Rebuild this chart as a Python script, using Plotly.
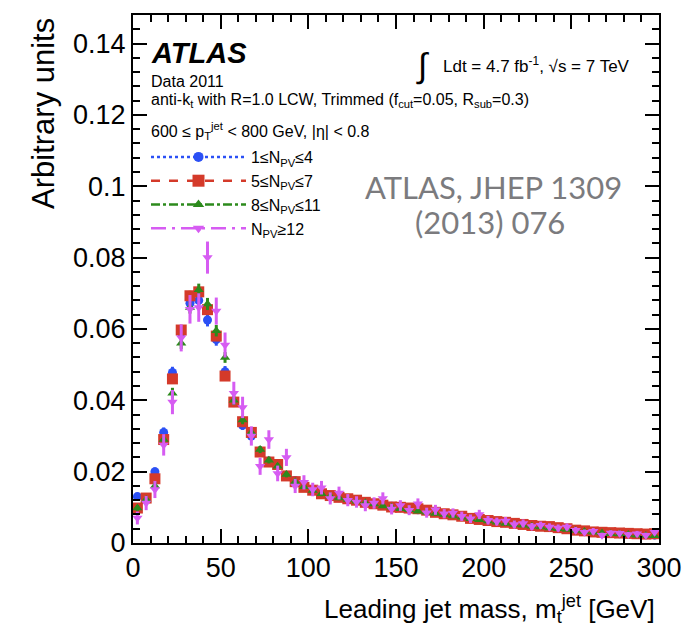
import plotly.graph_objects as go

# ---------------- data ----------------
mass_bins = [2.5, 7.5, 12.5, 17.5, 22.5, 27.5, 32.5, 37.5, 42.5, 47.5,
             52.5, 57.5, 62.5, 67.5, 72.5, 77.5, 82.5, 87.5, 92.5, 97.5,
             102.5, 107.5, 112.5, 117.5, 122.5, 127.5, 132.5, 137.5, 142.5, 147.5,
             152.5, 157.5, 162.5, 167.5, 172.5, 177.5, 182.5, 187.5, 192.5, 197.5,
             202.5, 207.5, 212.5, 217.5, 222.5, 227.5, 232.5, 237.5, 242.5, 247.5,
             252.5, 257.5, 262.5, 267.5, 272.5, 277.5, 282.5, 287.5, 292.5, 297.5]

npv_1_4 = [0.0130, 0.0125, 0.0200, 0.0310, 0.0478, 0.0590, 0.0672, 0.0680, 0.0625, 0.0570,
           0.0480, 0.0395, 0.0330, 0.0300, 0.0258, 0.0230, 0.0218, 0.0190, 0.0175, 0.0160,
           0.0150, 0.0137, 0.0131, 0.0127, 0.0125, 0.0120, 0.0116, 0.0111, 0.0107, 0.0103,
           0.0099, 0.0095, 0.0093, 0.0090, 0.0087, 0.0083, 0.0079, 0.0074, 0.0070, 0.0067,
           0.0064, 0.0061, 0.0057, 0.0054, 0.0051, 0.0049, 0.0046, 0.0044, 0.0042, 0.0039,
           0.0036, 0.0033, 0.0031, 0.0029, 0.0028, 0.0026, 0.0025, 0.0024, 0.0023, 0.0022]

npv_5_7 = [0.0098, 0.0126, 0.0180, 0.0290, 0.0460, 0.0597, 0.0693, 0.0704, 0.0654, 0.0580,
           0.0468, 0.0395, 0.0340, 0.0310, 0.0255, 0.0227, 0.0220, 0.0188, 0.0172, 0.0156,
           0.0148, 0.0138, 0.0133, 0.0128, 0.0124, 0.0120, 0.0114, 0.0110, 0.0106, 0.0101,
           0.0100, 0.0098, 0.0096, 0.0092, 0.0086, 0.0082, 0.0079, 0.0075, 0.0069, 0.0066,
           0.0063, 0.0060, 0.0058, 0.0055, 0.0052, 0.0049, 0.0047, 0.0046, 0.0043, 0.0040,
           0.0036, 0.0034, 0.0031, 0.0030, 0.0029, 0.0028, 0.0027, 0.0026, 0.0025, 0.0026]

npv_8_11 = [0.0098, 0.0122, 0.0160, 0.0290, 0.0420, 0.0560, 0.0660, 0.0710, 0.0670, 0.0595,
            0.0520, 0.0400, 0.0345, 0.0310, 0.0262, 0.0232, 0.0215, 0.0192, 0.0172, 0.0158,
            0.0147, 0.0138, 0.0131, 0.0126, 0.0122, 0.0117, 0.0113, 0.0109, 0.0104, 0.0100,
            0.0096, 0.0093, 0.0089, 0.0086, 0.0083, 0.0080, 0.0076, 0.0072, 0.0068, 0.0065,
            0.0062, 0.0058, 0.0055, 0.0052, 0.0050, 0.0047, 0.0045, 0.0042, 0.0040, 0.0038,
            0.0035, 0.0032, 0.0030, 0.0028, 0.0026, 0.0025, 0.0024, 0.0022, 0.0021, 0.0020]

npv_12 = [0.0070, 0.0112, 0.0150, 0.0275, 0.0395, 0.0575, 0.0655, 0.0660, 0.0800, 0.0650,
          0.0555, 0.0420, 0.0380, 0.0300, 0.0215, 0.0290, 0.0195, 0.0240, 0.0160, 0.0170,
          0.0150, 0.0155, 0.0125, 0.0140, 0.0120, 0.0115, 0.0105, 0.0112, 0.0125, 0.0095,
          0.0105, 0.0092, 0.0110, 0.0085, 0.0093, 0.0082, 0.0084, 0.0075, 0.0068, 0.0080,
          0.0064, 0.0060, 0.0062, 0.0052, 0.0055, 0.0046, 0.0050, 0.0045, 0.0042, 0.0045,
          0.0036, 0.0030, 0.0033, 0.0022, 0.0028, 0.0027, 0.0024, 0.0026, 0.0022, 0.0030]

err_1_4 = [0.0010, 0.0010, 0.0012, 0.0014, 0.0016, 0.0018, 0.0018, 0.0018, 0.0018, 0.0017,
           0.0016, 0.0014, 0.0013, 0.0012, 0.0011, 0.0010, 0.0010, 0.0009, 0.0009, 0.0008,
           0.0008, 0.0008, 0.0007, 0.0007, 0.0007, 0.0007, 0.0007, 0.0006, 0.0006, 0.0006,
           0.0006, 0.0006, 0.0006, 0.0006, 0.0005, 0.0005, 0.0005, 0.0005, 0.0005, 0.0005,
           0.0005, 0.0005, 0.0004, 0.0004, 0.0004, 0.0004, 0.0004, 0.0004, 0.0004, 0.0004,
           0.0003, 0.0003, 0.0003, 0.0003, 0.0003, 0.0003, 0.0003, 0.0003, 0.0003, 0.0003]

err_5_7 = [0.0006, 0.0007, 0.0008, 0.0010, 0.0012, 0.0013, 0.0014, 0.0014, 0.0013, 0.0012,
           0.0011, 0.0010, 0.0009, 0.0009, 0.0008, 0.0008, 0.0008, 0.0007, 0.0007, 0.0006,
           0.0006, 0.0006, 0.0006, 0.0005, 0.0005, 0.0005, 0.0005, 0.0005, 0.0005, 0.0005,
           0.0005, 0.0004, 0.0004, 0.0004, 0.0004, 0.0004, 0.0004, 0.0004, 0.0004, 0.0004,
           0.0003, 0.0003, 0.0003, 0.0003, 0.0003, 0.0003, 0.0003, 0.0003, 0.0003, 0.0003,
           0.0003, 0.0003, 0.0002, 0.0002, 0.0002, 0.0002, 0.0002, 0.0002, 0.0002, 0.0002]

err_8_11 = [0.0008, 0.0009, 0.0010, 0.0012, 0.0015, 0.0016, 0.0017, 0.0017, 0.0017, 0.0016,
            0.0015, 0.0013, 0.0012, 0.0011, 0.0010, 0.0009, 0.0009, 0.0008, 0.0008, 0.0007,
            0.0007, 0.0007, 0.0007, 0.0006, 0.0006, 0.0006, 0.0006, 0.0006, 0.0006, 0.0005,
            0.0005, 0.0005, 0.0005, 0.0005, 0.0005, 0.0005, 0.0004, 0.0004, 0.0004, 0.0004,
            0.0004, 0.0004, 0.0004, 0.0004, 0.0004, 0.0003, 0.0003, 0.0003, 0.0003, 0.0003,
            0.0003, 0.0003, 0.0003, 0.0003, 0.0003, 0.0003, 0.0002, 0.0002, 0.0002, 0.0002]

err_12 = [0.0018, 0.0020, 0.0024, 0.0030, 0.0034, 0.0038, 0.0040, 0.0040, 0.0045, 0.0038,
          0.0035, 0.0032, 0.0030, 0.0027, 0.0024, 0.0026, 0.0022, 0.0024, 0.0020, 0.0020,
          0.0019, 0.0019, 0.0017, 0.0018, 0.0017, 0.0016, 0.0016, 0.0016, 0.0017, 0.0015,
          0.0015, 0.0014, 0.0015, 0.0014, 0.0014, 0.0013, 0.0013, 0.0013, 0.0012, 0.0013,
          0.0012, 0.0011, 0.0011, 0.0011, 0.0011, 0.0010, 0.0010, 0.0010, 0.0010, 0.0010,
          0.0009, 0.0008, 0.0009, 0.0007, 0.0008, 0.0008, 0.0007, 0.0008, 0.0007, 0.0008]

series_names = ["1≤N<sub>PV</sub>≤4", "5≤N<sub>PV</sub>≤7",
                "8≤N<sub>PV</sub>≤11", "N<sub>PV</sub>≥12"]

y_tick_vals = [0, 0.02, 0.04, 0.06, 0.08, 0.1, 0.12, 0.14]
y_tick_text = ["0", "0.02", "0.04", "0.06", "0.08", "0.1", "0.12", "0.14"]
x_tick_vals = [0, 50, 100, 150, 200, 250, 300]
x_tick_text = ["0", "50", "100", "150", "200", "250", "300"]

# ---------------- styles ----------------
FONT = "Liberation Sans"
styles = [
    dict(color="#2b50f5", symbol="circle", size=9, dash="dot"),
    dict(color="#d43a2a", symbol="square", size=11, dash="dash"),
    dict(color="#2c8a1c", symbol="triangle-up", size=9, dash="dashdot"),
    dict(color="#d65cf2", symbol="triangle-down", size=9, dash="longdashdot"),
]
values = [npv_1_4, npv_5_7, npv_8_11, npv_12]
errors = [err_1_4, err_5_7, err_8_11, err_12]

fig = go.Figure()

for name, vals, errs, st in zip(series_names, values, errors, styles):
    fig.add_trace(go.Scatter(
        x=mass_bins, y=vals, mode="markers", name=name, showlegend=False,
        marker=dict(color=st["color"], symbol=st["symbol"], size=st["size"],
                    line=dict(width=0)),
        error_y=dict(type="data", array=errs, visible=True, color=st["color"],
                     thickness=3, width=0),
    ))

# legend entries (line + marker, ROOT style)
for name, st in zip(series_names, styles):
    fig.add_trace(go.Scatter(
        x=[None], y=[None], mode="lines+markers", name=name, showlegend=True,
        line=dict(color=st["color"], width=2.5, dash=st["dash"]),
        marker=dict(color=st["color"], symbol=st["symbol"], size=st["size"] + 1),
    ))

axis_common = dict(
    showline=True, linecolor="black", linewidth=2, mirror="allticks",
    ticks="inside", ticklen=14, tickwidth=2, tickcolor="black",
    showgrid=False, zeroline=False, automargin=False,
    tickfont=dict(family=FONT, size=27, color="black"),
)

fig.update_xaxes(range=[0, 300], tickvals=x_tick_vals, ticktext=x_tick_text,
                 minor=dict(dtick=10, tick0=0, ticks="inside", ticklen=7,
                            tickwidth=2, tickcolor="black"),
                 **axis_common)
fig.update_yaxes(range=[0, 0.148], tickvals=y_tick_vals, ticktext=y_tick_text,
                 minor=dict(dtick=0.004, tick0=0, ticks="inside", ticklen=7,
                            tickwidth=2, tickcolor="black"),
                 **axis_common)

def px(x):
    return (x - 133) / 526.0

def py(y):
    return (543 - y) / 528.0

annotations = [
    dict(text="<b><i>ATLAS</i></b>", x=px(149), y=py(53), xanchor="left", yanchor="middle",
         font=dict(family=FONT, size=29, color="black")),
    dict(text="Data 2011", x=px(149), y=py(81), xanchor="left", yanchor="middle",
         font=dict(family=FONT, size=16, color="black")),
    dict(text="anti-k<sub>t</sub> with R=1.0 LCW, Trimmed (f<sub>cut</sub>=0.05, R<sub>sub</sub>=0.3)",
         x=px(149), y=py(101), xanchor="left", yanchor="middle",
         font=dict(family=FONT, size=16, color="black")),
    dict(text="600 ≤ p<sub>T</sub><sup>jet</sup> < 800 GeV, |η| < 0.8",
         x=px(149), y=py(131), xanchor="left", yanchor="middle",
         font=dict(family=FONT, size=16, color="black")),
    dict(text="∫", x=px(422), y=py(66), xanchor="center", yanchor="middle",
         font=dict(family=FONT, size=34, color="black")),
    dict(text="Ldt = 4.7 fb<sup>-1</sup>, √s = 7 TeV", x=px(632), y=py(65),
         xanchor="right", yanchor="middle",
         font=dict(family=FONT, size=17, color="black")),
    dict(text="ATLAS, JHEP 1309", x=px(493), y=py(187), xanchor="center", yanchor="middle",
         font=dict(family="Lato", size=31, color="#7b7b7e")),
    dict(text="(2013) 076", x=px(490), y=py(222), xanchor="center", yanchor="middle",
         font=dict(family="Lato", size=31, color="#7b7b7e")),
    dict(text="Leading jet mass, m<sub>t</sub><sup>jet</sup> [GeV]", x=px(657), y=py(609),
         xanchor="right", yanchor="middle",
         font=dict(family=FONT, size=26, color="black")),
    dict(text="Arbitrary units", x=px(43), y=py(114), xanchor="center", yanchor="middle",
         textangle=-90, font=dict(family=FONT, size=31, color="black")),
]
for a in annotations:
    a.update(xref="paper", yref="paper", showarrow=False)

fig.update_layout(
    width=684, height=637,
    margin=dict(l=133, r=25, t=15, b=94),
    paper_bgcolor="white", plot_bgcolor="white",
    annotations=annotations,
    legend=dict(x=px(146), y=py(140), xanchor="left", yanchor="top",
                itemwidth=95, bgcolor="rgba(0,0,0,0)",
                font=dict(family=FONT, size=16, color="black"),
                tracegroupgap=0),
    showlegend=True,
)

fig.write_html("out.html", config={"displayModeBar": False},
               post_script="document.body.style.margin='0px';")
